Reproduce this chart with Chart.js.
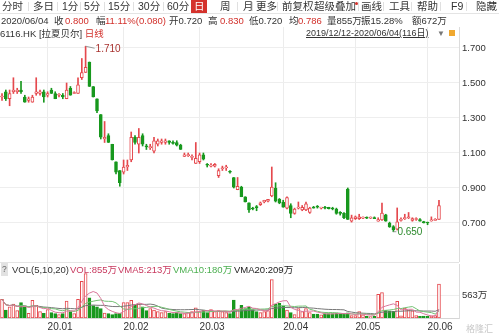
<!DOCTYPE html>
<html>
<head>
<meta charset="utf-8">
<script src="https://cdn.jsdelivr.net/npm/chart.js@4.4.1/dist/chart.umd.min.js"></script>
<style>
  body { margin: 0; width: 499px; height: 336px; overflow: hidden; background: #fff; position: relative;
         font-family: "Liberation Sans", "Noto Sans CJK SC", sans-serif; }
  .t { position: absolute; white-space: nowrap; font-size: 9.5px; line-height: 13px; color: #333; }
  .b { font-size: 10.5px; }
  .r { color: #d2302b; }
  .sep { position: absolute; top: 2px; width: 1px; height: 9px; background: #e0e0e0; }
  #pc { position: absolute; left: 0; top: 27px; }
  #vc { position: absolute; left: 0; top: 262px; }
</style>
</head>
<body>
<canvas id="pc" width="499" height="235"></canvas>
<canvas id="vc" width="499" height="74"></canvas>

<!-- toolbar -->
<div style="position:absolute;left:0;top:13px;width:499px;height:1px;background:#e4e4e4"></div>
<div style="position:absolute;left:191px;top:0;width:16px;height:13px;background:#d4322c"></div>
<span class="t b" style="left:2px;top:0">分时</span><div class="sep" style="left:28px"></div>
<span class="t b" style="left:33px;top:0">多日</span><div class="sep" style="left:57px"></div>
<span class="t b" style="left:62px;top:0">1分</span><div class="sep" style="left:80px"></div>
<span class="t b" style="left:84px;top:0">5分</span><div class="sep" style="left:104px"></div>
<span class="t b" style="left:108px;top:0">15分</span><div class="sep" style="left:133px"></div>
<span class="t b" style="left:138px;top:0">30分</span><div class="sep" style="left:163px"></div>
<span class="t b" style="left:167px;top:0">60分</span>
<span class="t b" style="left:194px;top:0;color:#fff">日</span>
<span class="t b" style="left:220px;top:0">周</span><div class="sep" style="left:237px"></div>
<span class="t b" style="left:243px;top:0">月</span><div class="sep" style="left:252px"></div>
<span class="t b" style="left:256px;top:0">更多</span><div class="sep" style="left:277px"></div>
<span class="t b" style="left:282px;top:0">前复权</span><div class="sep" style="left:309px"></div>
<span class="t b" style="left:314px;top:0">超级叠加</span>
<div style="position:absolute;left:355px;top:2px;width:3px;height:3px;border-radius:2px;background:#d4322c"></div>
<div class="sep" style="left:358px"></div>
<span class="t b" style="left:361px;top:0">画线</span><div class="sep" style="left:383px"></div>
<span class="t b" style="left:389px;top:0">工具</span><div class="sep" style="left:411px"></div>
<span class="t b" style="left:417px;top:0">帮助</span><div class="sep" style="left:440px"></div>
<span class="t b" style="left:451px;top:0">F9</span><div class="sep" style="left:466px"></div>
<span class="t b" style="left:476px;top:0">隐藏</span>

<!-- quote line -->
<span class="t" style="left:1px;top:14px">2020/06/04</span>
<span class="t" style="left:54px;top:14px">收</span>
<span class="t r" style="left:65px;top:14px">0.800</span>
<span class="t" style="left:96px;top:14px">幅</span>
<span class="t r" style="left:105px;top:14px">11.11%(0.080)</span>
<span class="t" style="left:169px;top:14px">开0.720</span>
<span class="t" style="left:208px;top:14px">高</span>
<span class="t r" style="left:220px;top:14px">0.830</span>
<span class="t" style="left:249px;top:14px">低0.720</span>
<span class="t" style="left:289px;top:14px">均</span>
<span class="t r" style="left:298px;top:14px">0.786</span>
<span class="t" style="left:327px;top:14px">量855万</span>
<span class="t" style="left:361px;top:14px">振15.28%</span>
<span class="t" style="left:412px;top:14px">额672万</span>

<!-- title line -->
<span class="t" style="left:0;top:27px">6116.HK [拉夏贝尔] <span class="r">日线</span></span>
<span class="t" style="left:306px;top:27px;text-decoration:underline;font-size:9px">2019/12/12-2020/06/04(116日)</span>
<span class="t" style="left:437px;top:27px;color:#777;font-size:8px">▼</span>
<div style="position:absolute;left:449px;top:30px;width:6px;height:6px;background:#f0a830"></div>

<!-- volume legend -->
<div style="position:absolute;left:0;top:262px;width:459px;height:1px;background:#e4e4e4"></div>
<span class="t" style="left:1px;top:263px;background:#e2e2e2;color:#666;font-size:8.5px;padding:0 1px">?</span>
<span class="t" style="left:12px;top:263px">VOL(5,10,20)</span>
<span class="t" style="left:70px;top:263px;color:#c8385e">VOL:855万</span>
<span class="t" style="left:118px;top:263px;color:#c8385e">VMA5:213万</span>
<span class="t" style="left:173px;top:263px;color:#4caf50">VMA10:180万</span>
<span class="t" style="left:234px;top:263px;color:#222">VMA20:209万</span>
<span class="t" style="left:466px;top:323px;color:#c8c8c8;font-size:9px">格隆汇</span>

<script>
const FONT = '"Liberation Sans", "Noto Sans CJK SC", sans-serif';
const RED = '#e5484d';
const GREEN = '#18981e';

// daily candles, 2019/12/12 - 2020/06/04 (116 days)
const open = [
  1.42, 1.45, 1.41, 1.45, 1.45, 1.46, 1.42, 1.40, 1.39, 1.44,
  1.44, 1.45, 1.43, 1.46, 1.44, 1.43, 1.43, 1.41, 1.47, 1.44,
  1.44, 1.53, 1.56, 1.62, 1.48, 1.41, 1.32, 1.18, 1.20, 1.15,
  1.05, 1.00, 0.99, 1.02, 1.06, 1.19, 1.15, 1.20, 1.14, 1.13,
  1.11, 1.15, 1.16, 1.16, 1.17, 1.16, 1.16, 1.145, 1.08, 1.085,
  1.075, 1.04, 1.05, 1.09, 1.035, 1.025, 1.025, 0.97, 1.01, 1.015,
  0.995, 0.96, 0.89, 0.905, 0.85, 0.815, 0.785, 0.79, 0.805, 0.82,
  0.825, 0.855, 0.90, 0.835, 0.82, 0.785, 0.80, 0.755, 0.785, 0.775,
  0.775, 0.76, 0.79, 0.795, 0.785, 0.79, 0.79, 0.785, 0.78, 0.76,
  0.755, 0.894, 0.71, 0.725, 0.725, 0.728, 0.73, 0.728, 0.73, 0.71,
  0.717, 0.746, 0.70, 0.68, 0.664, 0.715, 0.725, 0.73, 0.715, 0.72,
  0.72, 0.708, 0.702, 0.712, 0.715, 0.72
];
const high = [
  1.44, 1.46, 1.46, 1.53, 1.47, 1.51, 1.43, 1.42, 1.43, 1.53,
  1.46, 1.46, 1.45, 1.47, 1.45, 1.44, 1.44, 1.50, 1.48, 1.45,
  1.53, 1.64, 1.71, 1.62, 1.48, 1.41, 1.32, 1.28, 1.21, 1.15,
  1.05, 1.00, 1.06, 1.06, 1.22, 1.20, 1.24, 1.21, 1.15, 1.15,
  1.19, 1.18, 1.18, 1.18, 1.17, 1.17, 1.17, 1.15, 1.10, 1.10,
  1.09, 1.16, 1.10, 1.10, 1.04, 1.04, 1.04, 1.01, 1.025, 1.03,
  1.00, 0.96, 0.96, 0.91, 0.85, 0.815, 0.79, 0.80, 0.82, 0.83,
  0.835, 1.02, 0.93, 0.84, 0.83, 0.85, 0.81, 0.785, 0.82, 0.80,
  0.82, 0.79, 0.795, 0.80, 0.79, 0.795, 0.79, 0.79, 0.785, 0.765,
  0.76, 0.90, 0.745, 0.74, 0.75, 0.735, 0.735, 0.735, 0.735, 0.73,
  0.814, 0.75, 0.705, 0.685, 0.786, 0.73, 0.75, 0.76, 0.73, 0.73,
  0.725, 0.71, 0.705, 0.735, 0.725, 0.83
];
const low = [
  1.40, 1.40, 1.37, 1.44, 1.44, 1.44, 1.39, 1.39, 1.39, 1.43,
  1.43, 1.39, 1.42, 1.44, 1.41, 1.42, 1.41, 1.41, 1.43, 1.44,
  1.44, 1.52, 1.56, 1.48, 1.42, 1.33, 1.18, 1.16, 1.16, 1.06,
  0.98, 0.91, 0.98, 1.00, 1.05, 1.15, 1.10, 1.14, 1.12, 1.12,
  1.10, 1.14, 1.15, 1.15, 1.15, 1.15, 1.14, 1.12, 1.08, 1.08,
  1.06, 1.04, 1.04, 1.06, 1.02, 1.02, 1.02, 0.96, 1.00, 1.00,
  0.985, 0.90, 0.89, 0.85, 0.82, 0.76, 0.775, 0.77, 0.80, 0.815,
  0.82, 0.85, 0.82, 0.81, 0.79, 0.78, 0.73, 0.75, 0.78, 0.77,
  0.77, 0.755, 0.785, 0.785, 0.78, 0.78, 0.78, 0.775, 0.75, 0.745,
  0.725, 0.72, 0.705, 0.72, 0.72, 0.725, 0.725, 0.725, 0.725, 0.71,
  0.715, 0.71, 0.675, 0.65, 0.66, 0.71, 0.72, 0.725, 0.71, 0.715,
  0.71, 0.70, 0.69, 0.71, 0.715, 0.72
];
const close = [
  1.423, 1.41, 1.44, 1.46, 1.46, 1.45, 1.39, 1.41, 1.42, 1.45,
  1.45, 1.42, 1.44, 1.44, 1.41, 1.432, 1.42, 1.46, 1.43, 1.443,
  1.49, 1.56, 1.59, 1.48, 1.42, 1.34, 1.19, 1.19, 1.16, 1.06,
  0.99, 0.93, 1.02, 1.03, 1.19, 1.16, 1.19, 1.15, 1.135, 1.137,
  1.17, 1.17, 1.17, 1.17, 1.16, 1.155, 1.145, 1.12, 1.09, 1.09,
  1.08, 1.07, 1.09, 1.065, 1.03, 1.03, 1.035, 1.00, 1.015, 1.02,
  0.99, 0.905, 0.91, 0.85, 0.82, 0.775, 0.78, 0.788, 0.815, 0.83,
  0.835, 0.905, 0.825, 0.815, 0.79, 0.845, 0.755, 0.78, 0.79, 0.79,
  0.81, 0.785, 0.785, 0.79, 0.787, 0.785, 0.782, 0.78, 0.755, 0.755,
  0.73, 0.72, 0.73, 0.735, 0.735, 0.73, 0.728, 0.73, 0.725, 0.72,
  0.757, 0.71, 0.677, 0.66, 0.706, 0.72, 0.73, 0.735, 0.725, 0.725,
  0.71, 0.70, 0.70, 0.718, 0.72, 0.80
];
// volume, 万股
const volume = [
  470, 200, 280, 350, 185, 390, 280, 120, 450, 320,
  160, 120, 210, 140, 110, 85, 110, 430, 160, 110,
  470, 930, 1126, 510, 315, 280, 240, 125, 110, 85,
  110, 125, 390, 390, 450, 320, 350, 280, 185, 240,
  200, 160, 140, 160, 120, 110, 140, 110, 110, 140,
  160, 260, 160, 200, 140, 215, 160, 185, 160, 140,
  110, 455, 200, 320, 240, 270, 215, 160, 140, 160,
  185, 970, 355, 370, 295, 200, 140, 85, 240, 160,
  240, 140, 100, 100, 80, 110, 110, 110, 130, 100,
  100, 130, 60, 60, 160, 80, 40, 35, 40, 600,
  640, 200, 180, 170, 420, 55, 250, 200, 180, 60,
  45, 50, 45, 55, 60, 855
];
const monthStarts = [12, 32, 52, 74, 93, 112];
const monthLabels = ['20.01', '20.02', '20.03', '20.04', '20.05', '20.06'];
const priceTicks = [0.7, 0.9, 1.1, 1.3, 1.5, 1.7];
const volumeTicks = [563];

const idx = open.map((_, i) => i);
const up = idx.map(i => close[i] >= open[i]);
const col = idx.map(i => (up[i] ? RED : GREEN));
const fill = idx.map(i => (up[i] ? '#fff' : GREEN));

function movingAvg(arr, n) {
  return arr.map((_, i) => {
    const part = arr.slice(Math.max(0, i - n + 1), i + 1);
    return part.reduce((a, b) => a + b, 0) / part.length;
  });
}

function xAxis(showLabels) {
  return {
    type: 'linear',
    min: -0.53,
    max: 120.27,
    offset: false,
    grid: { color: '#ececec', drawTicks: false, offset: false },
    border: { display: showLabels, color: '#d6d6d6' },
    afterBuildTicks: s => { s.ticks = monthStarts.map(v => ({ value: v })); },
    afterFit: s => { s.paddingLeft = 0; s.paddingRight = 0; },
    ticks: {
      display: showLabels, autoSkip: false, maxRotation: 0, align: 'start', padding: 3,
      color: '#333', font: { size: 10, family: FONT },
      callback: (v, i) => monthLabels[i],
    },
  };
}

function rightAxis(min, max, tickList, fmt) {
  return {
    position: 'right',
    min: min,
    max: max,
    grid: { color: '#eeeeee', drawTicks: false },
    border: { display: true, color: '#dcdcdc' },
    afterBuildTicks: s => { s.ticks = tickList.map(v => ({ value: v })); },
    afterFit: s => { s.width = 40; s.paddingTop = 0; s.paddingBottom = 0; },
    ticks: { padding: 3, color: '#333', font: { size: 9.5, family: FONT }, callback: fmt },
  };
}

const commonOptions = {
  responsive: false,
  animation: false,
  events: [],
  plugins: { legend: { display: false }, tooltip: { enabled: false } },
};

// highest / lowest price markers
const extremesPlugin = {
  id: 'extremes',
  afterDatasetsDraw(chart) {
    const { ctx, scales } = chart;
    const hi = high.indexOf(Math.max(...high));
    const lo = low.indexOf(Math.min(...low));
    ctx.save();
    ctx.font = '10px ' + FONT;
    ctx.textBaseline = 'middle';
    ctx.lineWidth = 1;
    ctx.strokeStyle = '#999';

    let px = scales.x.getPixelForValue(hi);
    let py = scales.y.getPixelForValue(high[hi]);
    ctx.beginPath();
    ctx.moveTo(px, py);
    ctx.lineTo(px + 9, py + 2);
    ctx.stroke();
    ctx.fillStyle = '#a8322f';
    ctx.fillText(high[hi].toFixed(3), px + 10, py + 3);

    px = scales.x.getPixelForValue(lo);
    py = scales.y.getPixelForValue(low[lo]);
    ctx.beginPath();
    ctx.moveTo(px, py);
    ctx.lineTo(px + 3, py);
    ctx.stroke();
    ctx.fillStyle = '#2d8a2d';
    ctx.fillText(low[lo].toFixed(3), px + 4, py + 1);
    ctx.restore();
  },
};

new Chart(document.getElementById('pc'), {
  type: 'bar',
  data: {
    datasets: [
      {
        label: 'body',
        data: idx.map(i => ({ x: i, y: [open[i], close[i]] })),
        backgroundColor: fill,
        borderColor: col,
        borderWidth: 1,
        borderSkipped: false,
        barThickness: 3,
        minBarLength: 1,
        grouped: false,
      },
      {
        label: 'wick',
        data: idx.map(i => ({ x: i, y: [low[i], high[i]] })),
        backgroundColor: col,
        borderWidth: 0,
        barThickness: 1,
        grouped: false,
      },
    ],
  },
  options: {
    ...commonOptions,
    layout: { padding: 0 },
    scales: {
      x: xAxis(false),
      y: rightAxis(0.4771, 1.82, priceTicks, v => v.toFixed(3)),
    },
  },
  plugins: [extremesPlugin],
});

new Chart(document.getElementById('vc'), {
  type: 'bar',
  data: {
    datasets: [
      { type: 'line', label: 'VMA5', data: movingAvg(volume, 5).map((v, i) => ({ x: i, y: v })),
        borderColor: '#d9779b', borderWidth: 1, pointRadius: 0 },
      { type: 'line', label: 'VMA10', data: movingAvg(volume, 10).map((v, i) => ({ x: i, y: v })),
        borderColor: '#74c274', borderWidth: 1, pointRadius: 0 },
      { type: 'line', label: 'VMA20', data: movingAvg(volume, 20).map((v, i) => ({ x: i, y: v })),
        borderColor: '#777', borderWidth: 1, pointRadius: 0 },
      {
        label: 'VOL',
        data: idx.map(i => ({ x: i, y: volume[i] })),
        backgroundColor: fill,
        borderColor: col,
        borderWidth: 1,
        borderSkipped: false,
        barThickness: 3,
        grouped: false,
      },
    ],
  },
  options: {
    ...commonOptions,
    layout: { padding: { top: 2 } },
    scales: {
      x: xAxis(true),
      y: rightAxis(0, 1366, volumeTicks, v => v + '万'),
    },
  },
});
</script>
</body>
</html>
